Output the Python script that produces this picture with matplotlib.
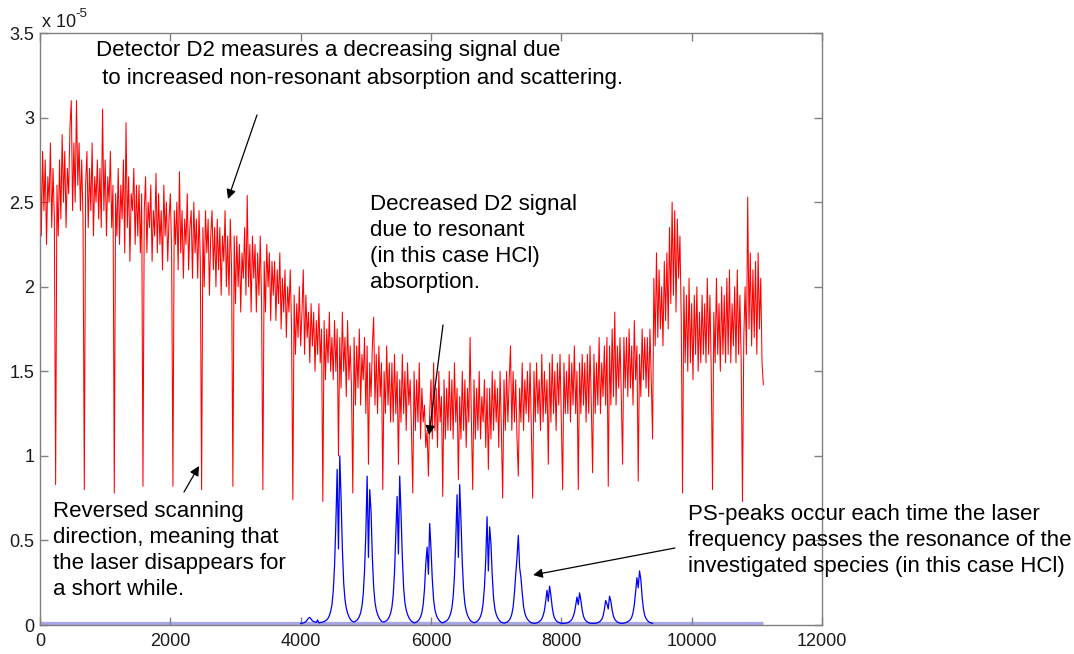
import numpy as np
import matplotlib
matplotlib.use("Agg")
import matplotlib.pyplot as plt
from matplotlib.ticker import FuncFormatter

plt.rcParams['font.family'] = ['Liberation Sans', 'DejaVu Sans']

# ---------------- data (values in units of 1e-5) ----------------
# D2 detector signal, sampled every 20 units from 0 to 11100
red_step = 20
red_values = [
    2.90, 2.30, 2.80, 2.45, 2.75, 2.25, 2.65, 2.50, 2.85, 2.35, 2.70, 2.40, 0.83, 2.60, 2.30,  # 0
    2.75, 2.40, 2.90, 2.50, 2.80, 2.35, 2.70, 2.55, 2.95, 3.10, 2.45, 2.85, 2.50, 3.10, 2.60,  # 300
    2.85, 2.45, 2.75, 2.40, 0.80, 2.60, 2.80, 2.35, 2.70, 2.45, 2.85, 2.30, 2.65, 2.50, 2.75,  # 600
    2.40, 2.70, 2.35, 3.05, 2.45, 2.75, 2.30, 2.65, 2.50, 2.80, 2.35, 2.60, 0.78, 2.55, 2.30,  # 900
    2.70, 2.25, 2.60, 2.40, 2.75, 2.20, 2.97, 2.35, 2.65, 2.15, 2.55, 2.45, 2.70, 2.25, 2.60,  # 1200
    2.30, 2.60, 2.20, 2.55, 0.82, 2.45, 2.65, 2.20, 2.50, 2.35, 2.60, 2.15, 2.45, 2.30, 2.67,  # 1500
    2.20, 2.55, 2.25, 2.45, 2.10, 2.60, 2.30, 2.50, 2.15, 2.40, 2.55, 2.20, 0.82, 2.45, 2.25,  # 1800
    2.50, 2.10, 2.68, 2.20, 2.45, 2.05, 2.40, 2.25, 2.55, 2.10, 2.35, 2.45, 2.05, 2.50, 2.20,  # 2100
    2.40, 2.05, 2.45, 2.15, 0.80, 2.35, 2.00, 2.45, 2.20, 2.40, 1.95, 2.30, 2.45, 2.10, 2.35,  # 2400
    2.00, 2.40, 2.10, 2.35, 1.95, 2.30, 2.15, 2.45, 2.00, 2.30, 1.95, 2.40, 2.10, 0.82, 2.30,  # 2700
    1.90, 2.30, 2.00, 2.25, 1.85, 2.20, 2.05, 2.35, 1.95, 2.54, 2.00, 2.25, 1.85, 2.30, 2.05,  # 3000
    2.25, 1.85, 2.20, 1.95, 2.30, 1.90, 0.80, 2.15, 1.85, 2.25, 2.00, 2.20, 1.80, 2.15, 1.95,  # 3300
    2.15, 1.80, 2.10, 1.90, 2.20, 1.75, 2.05, 1.85, 2.10, 1.70, 2.00, 1.85, 2.10, 1.75, 0.74,  # 3600
    1.95, 1.60, 1.90, 1.70, 2.00, 1.65, 1.85, 2.10, 1.60, 1.95, 1.70, 1.85, 1.55, 1.90, 1.65,  # 3900
    1.85, 1.50, 1.80, 1.60, 1.90, 1.55, 1.75, 0.73, 1.80, 1.45, 1.75, 1.55, 1.85, 1.50, 1.70,  # 4200
    1.45, 1.80, 1.50, 1.75, 1.00, 1.70, 1.40, 1.85, 1.50, 1.70, 1.35, 1.80, 1.45, 1.65, 1.40,  # 4500
    0.78, 1.70, 1.30, 1.65, 1.40, 1.75, 1.30, 1.60, 1.45, 1.70, 1.25, 1.65, 0.95, 1.55, 1.35,  # 4800
    1.65, 1.82, 1.30, 1.60, 1.25, 1.65, 1.35, 1.55, 0.80, 1.50, 1.25, 1.65, 1.30, 1.55, 1.20,  # 5100
    1.55, 1.20, 1.60, 1.25, 1.50, 0.95, 1.45, 1.20, 1.60, 1.25, 1.50, 1.15, 1.55, 1.30, 1.45,  # 5400
    1.15, 0.78, 1.50, 1.15, 1.45, 1.20, 1.55, 1.10, 1.40, 1.20, 1.30, 1.05, 1.15, 0.88, 1.25,  # 5700
    1.45, 1.10, 1.55, 1.15, 1.40, 1.05, 1.50, 1.20, 1.35, 0.76, 1.45, 1.10, 1.40, 1.15, 1.50,  # 6000
    1.15, 1.45, 1.10, 1.55, 1.20, 1.40, 0.86, 1.35, 1.10, 1.50, 1.15, 1.45, 1.05, 1.40, 1.20,  # 6300
    1.70, 1.20, 0.80, 1.45, 1.10, 1.40, 1.15, 1.50, 1.10, 1.35, 1.20, 1.45, 1.05, 1.40, 0.92,  # 6600
    1.40, 1.10, 1.50, 1.15, 1.45, 1.20, 1.40, 1.05, 1.50, 1.15, 0.75, 1.45, 1.15, 1.50, 1.20,  # 6900
    1.45, 1.65, 1.15, 1.50, 1.20, 1.45, 1.10, 0.88, 1.40, 1.20, 1.55, 1.15, 1.45, 1.25, 1.50,  # 7200
    1.20, 1.55, 1.15, 0.75, 1.50, 1.20, 1.55, 1.25, 1.45, 1.15, 1.60, 1.20, 1.50, 1.25, 1.45,  # 7500
    0.95, 1.55, 1.20, 1.60, 1.25, 1.50, 1.15, 1.55, 1.30, 1.60, 1.20, 0.80, 1.55, 1.25, 1.50,  # 7800
    1.25, 1.60, 1.20, 1.55, 1.30, 1.65, 1.25, 1.50, 0.80, 1.55, 1.25, 1.60, 1.30, 1.55, 1.20,  # 8100
    1.60, 1.25, 1.65, 1.30, 0.90, 1.60, 1.25, 1.55, 1.30, 1.70, 1.25, 1.55, 1.35, 1.65, 1.30,  # 8400
    1.70, 0.82, 1.65, 1.30, 1.75, 1.35, 1.85, 1.30, 1.65, 1.40, 1.70, 1.35, 0.95, 1.70, 1.40,  # 8700
    1.70, 1.35, 1.75, 1.40, 1.65, 1.30, 1.80, 1.45, 1.65, 0.85, 1.60, 1.35, 1.75, 1.45, 1.70,  # 9000
    1.40, 1.70, 1.35, 1.75, 1.45, 1.10, 2.05, 1.65, 2.20, 1.70, 2.10, 1.75, 2.00, 1.65, 2.15,  # 9300
    1.80, 2.20, 1.75, 2.35, 1.90, 2.50, 1.95, 2.45, 1.85, 2.40, 2.05, 2.30, 1.80, 0.78, 2.00,  # 9600
    1.55, 1.95, 1.50, 2.05, 1.55, 1.90, 1.45, 1.95, 1.60, 2.00, 1.50, 1.85, 1.55, 1.95, 1.60,  # 9900
    1.90, 1.55, 2.05, 1.60, 1.95, 1.50, 0.80, 1.85, 1.55, 2.05, 1.60, 1.90, 1.50, 2.00, 1.60,  # 10200
    1.95, 1.55, 2.05, 1.60, 2.10, 1.55, 1.90, 1.65, 2.00, 1.55, 2.10, 1.60, 1.95, 1.55, 0.73,  # 10500
    1.70, 2.00, 1.60, 2.53, 1.75, 2.20, 1.65, 2.10, 1.70, 2.15, 1.60, 2.20, 1.75, 2.05, 1.55,  # 10800
    1.42,                                                                                     # 11100
]

# PS signal (photo-acoustic peaks), sampled every 20 units from 4000 to 9400
blue_start = 4000
blue_step = 20
blue_values = [
    # 4000 - 4340
    0.010, 0.010, 0.012, 0.015, 0.020, 0.030, 0.040, 0.045, 0.035, 0.025,
    0.020, 0.018, 0.015, 0.030, 0.012, 0.015, 0.015, 0.018,
    # peak ~4580
    0.020, 0.025, 0.030, 0.040, 0.055, 0.080, 0.120, 0.200, 0.350, 0.600, 0.920, 0.450,
    1.000, 0.750, 0.450, 0.250, 0.150, 0.100, 0.070, 0.050, 0.035, 0.025, 0.020,
    # peak ~5040
    0.018, 0.022, 0.027, 0.036, 0.050, 0.072, 0.110, 0.180, 0.320, 0.540, 0.880, 0.400,
    0.800, 0.670, 0.400, 0.225, 0.135, 0.090, 0.063, 0.045, 0.032, 0.022, 0.018,
    # peak ~5500
    0.018, 0.022, 0.026, 0.035, 0.048, 0.070, 0.105, 0.175, 0.310, 0.530, 0.760, 0.420,
    0.880, 0.660, 0.400, 0.220, 0.130, 0.088, 0.062, 0.044, 0.031, 0.022, 0.018,
    # peak ~5960
    0.012, 0.015, 0.018, 0.024, 0.033, 0.048, 0.072, 0.120, 0.210, 0.360, 0.460, 0.300,
    0.600, 0.450, 0.270, 0.150, 0.090, 0.060, 0.042, 0.030, 0.021, 0.015, 0.012,
    # peak ~6420
    0.017, 0.021, 0.025, 0.033, 0.046, 0.066, 0.100, 0.166, 0.290, 0.500, 0.770, 0.400,
    0.830, 0.620, 0.370, 0.210, 0.125, 0.083, 0.058, 0.041, 0.029, 0.021, 0.017,
    # peak ~6880
    0.013, 0.016, 0.019, 0.026, 0.035, 0.051, 0.077, 0.128, 0.224, 0.384, 0.640, 0.320,
    0.580, 0.480, 0.290, 0.160, 0.096, 0.064, 0.045, 0.032, 0.022, 0.016, 0.013,
    # peak ~7340
    0.011, 0.013, 0.016, 0.021, 0.029, 0.042, 0.064, 0.106, 0.186, 0.300, 0.400, 0.530,
    0.340, 0.280, 0.190, 0.110, 0.070, 0.048, 0.034, 0.025, 0.018, 0.013, 0.011,
    # peak ~7800
    0.010, 0.010, 0.012, 0.015, 0.020, 0.026, 0.036, 0.055, 0.085, 0.140, 0.205, 0.140,
    0.230, 0.175, 0.105, 0.060, 0.038, 0.026, 0.019, 0.015, 0.012, 0.010, 0.010,
    # peak ~8260
    0.010, 0.010, 0.012, 0.014, 0.018, 0.024, 0.032, 0.048, 0.072, 0.115, 0.165, 0.120,
    0.190, 0.145, 0.088, 0.052, 0.033, 0.024, 0.017, 0.014, 0.011, 0.010, 0.010,
    # peak ~8720
    0.010, 0.010, 0.012, 0.014, 0.018, 0.024, 0.033, 0.052, 0.090, 0.145, 0.125, 0.095,
    0.170, 0.140, 0.088, 0.052, 0.033, 0.024, 0.017, 0.014, 0.011, 0.010, 0.010,
    # peak ~9180
    0.011, 0.013, 0.016, 0.020, 0.025, 0.032, 0.046, 0.072, 0.120, 0.195, 0.280, 0.220,
    0.320, 0.270, 0.165, 0.095, 0.056, 0.038, 0.027, 0.019, 0.015, 0.012, 0.010,
]

# PS baseline (noise floor)
base_x = [0, 11100]
base_values = [0.012, 0.012]

x_ticks = [0, 2000, 4000, 6000, 8000, 10000, 12000]
y_ticks = [0, 0.5, 1, 1.5, 2, 2.5, 3, 3.5]

annotations = [
    ["Detector D2 measures a decreasing signal due",
     " to increased non-resonant absorption and scattering."],
    ["Decreased D2 signal", "due to resonant", "(in this case HCl)", "absorption."],
    ["Reversed scanning", "direction, meaning that",
     "the laser disappears for", "a short while."],
    ["PS-peaks occur each time the laser",
     "frequency passes the resonance of the",
     "investigated species (in this case HCl)"],
]

# ---------------- figure ----------------
W, H = 1074, 654
fig = plt.figure(figsize=(W / 100, H / 100), dpi=100)
ax = fig.add_axes([40 / W, (H - 625) / H, (822 - 40) / W, (625 - 33) / H])

red_x = np.arange(len(red_values)) * red_step
blue_x = blue_start + np.arange(len(blue_values)) * blue_step

ax.plot(base_x, base_values, color='#a8a8e6', lw=2.4, solid_capstyle='butt', zorder=1)
ax.plot(red_x, red_values, color='#ff0000', lw=0.75, zorder=2)
ax.plot(blue_x, blue_values, color='#0000ff', lw=0.9, zorder=3)

ax.set_xlim(0, 12000)
ax.set_ylim(0, 3.5)
ax.set_xticks(x_ticks)
ax.set_yticks(y_ticks)
ax.xaxis.set_major_formatter(FuncFormatter(lambda v, p: '%g' % v))
ax.yaxis.set_major_formatter(FuncFormatter(lambda v, p: '%g' % v))

spine_col = '#808080'
for s in ax.spines.values():
    s.set_color(spine_col)
    s.set_linewidth(1.0)
ax.tick_params(axis='both', which='both', direction='in', length=6, width=1.0,
               color=spine_col, labelcolor='#1a1a1a', labelsize=13,
               top=True, right=True)
ax.tick_params(axis='x', pad=6)
ax.tick_params(axis='y', pad=4)

# exponent label
fig.text(42 / W, 1 - 27 / H, 'x 10', fontsize=13, color='#1a1a1a', va='baseline', ha='left')
fig.text(75 / W, 1 - 17 / H, '-5', fontsize=9.5, color='#1a1a1a', va='baseline', ha='left')

# annotation text (left x, first baseline y, line spacing) in image pixels
text_pos = [(96, 56, 28), (370, 210, 26), (53, 517, 26), (688, 520, 26)]
for lines, (tx, ty, dy) in zip(annotations, text_pos):
    for i, line in enumerate(lines):
        fig.text(tx / W, 1 - (ty + i * dy) / H, line, fontsize=16.0, color='black',
                 ha='left', va='baseline')

# arrows (tail -> head) in image pixels
arrows = [((257, 115), (228, 199)), ((443, 325), (429, 435)),
          ((184, 492), (199, 466)), ((675, 548), (533, 575))]
for (x0, y0), (x1, y1) in arrows:
    fig.patches.append(matplotlib.patches.FancyArrowPatch(
        (x0 / W, 1 - y0 / H), (x1 / W, 1 - y1 / H), transform=fig.transFigure,
        arrowstyle='-|>', mutation_scale=14, color='black', lw=0.9,
        shrinkA=0, shrinkB=0))

fig.savefig('out.png', dpi=100)
